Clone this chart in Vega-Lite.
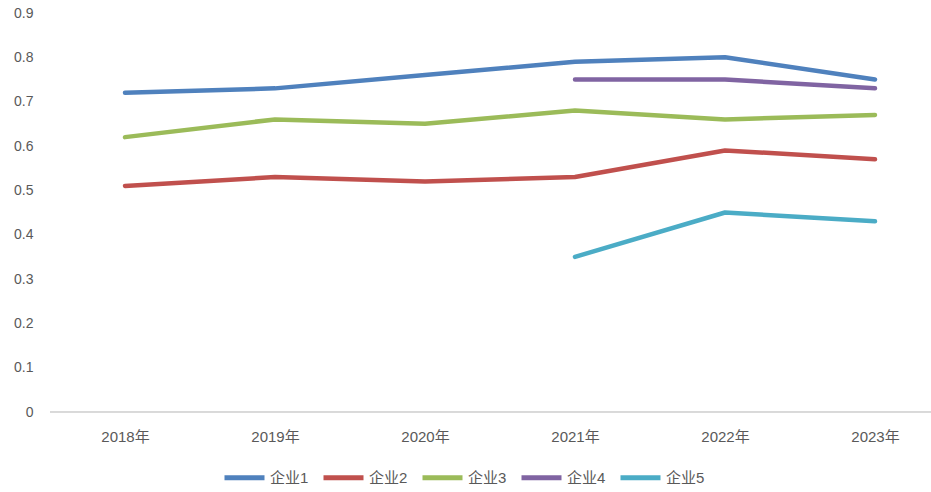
{
  "$schema": "https://vega.github.io/schema/vega-lite/v6.json",
  "width": 881,
  "height": 399,
  "autosize": "none",
  "padding": {"left": 50, "top": 13, "right": 0, "bottom": 80},
  "background": "#ffffff",
  "config": {
    "view": {"stroke": null},
    "font": "Liberation Sans, Noto Sans CJK SC",
    "axis": {"labelFont": "Liberation Sans, Noto Sans CJK SC", "labelColor": "#595959", "labelFontSize": 14},
    "legend": {"labelFont": "Liberation Sans, Noto Sans CJK SC", "labelColor": "#595959", "labelFontSize": 15}
  },
  "data": {
    "values": [
      {"year": "2018年", "series": "企业1", "value": 0.72},
      {"year": "2019年", "series": "企业1", "value": 0.73},
      {"year": "2020年", "series": "企业1", "value": 0.76},
      {"year": "2021年", "series": "企业1", "value": 0.79},
      {"year": "2022年", "series": "企业1", "value": 0.80},
      {"year": "2023年", "series": "企业1", "value": 0.75},
      {"year": "2018年", "series": "企业2", "value": 0.51},
      {"year": "2019年", "series": "企业2", "value": 0.53},
      {"year": "2020年", "series": "企业2", "value": 0.52},
      {"year": "2021年", "series": "企业2", "value": 0.53},
      {"year": "2022年", "series": "企业2", "value": 0.59},
      {"year": "2023年", "series": "企业2", "value": 0.57},
      {"year": "2018年", "series": "企业3", "value": 0.62},
      {"year": "2019年", "series": "企业3", "value": 0.66},
      {"year": "2020年", "series": "企业3", "value": 0.65},
      {"year": "2021年", "series": "企业3", "value": 0.68},
      {"year": "2022年", "series": "企业3", "value": 0.66},
      {"year": "2023年", "series": "企业3", "value": 0.67},
      {"year": "2021年", "series": "企业4", "value": 0.75},
      {"year": "2022年", "series": "企业4", "value": 0.75},
      {"year": "2023年", "series": "企业4", "value": 0.73},
      {"year": "2021年", "series": "企业5", "value": 0.35},
      {"year": "2022年", "series": "企业5", "value": 0.45},
      {"year": "2023年", "series": "企业5", "value": 0.43}
    ]
  },
  "layer": [
    {
      "mark": {"type": "rule", "color": "#d9d9d9", "strokeWidth": 1},
      "encoding": {"y": {"datum": 0, "type": "quantitative", "scale": {"domain": [0, 0.9]}}}
    },
    {
      "mark": {"type": "line", "strokeWidth": 4.5, "strokeCap": "round", "strokeJoin": "round"},
      "encoding": {
        "x": {
          "field": "year", "type": "ordinal",
          "sort": ["2018年", "2019年", "2020年", "2021年", "2022年", "2023年"],
          "scale": {"type": "point", "range": [75, 825], "padding": 0},
          "axis": {"title": null, "domain": false, "ticks": false, "labelPadding": 17, "labelAngle": 0, "labelFontSize": 15}
        },
        "y": {
          "field": "value", "type": "quantitative",
          "scale": {"domain": [0, 0.9], "nice": false},
          "axis": {"title": null, "domain": false, "ticks": false, "grid": false, "values": [0, 0.1, 0.2, 0.3, 0.4, 0.5, 0.6, 0.7, 0.8, 0.9], "format": "~g", "labelPadding": 17}
        },
        "color": {
          "field": "series", "type": "nominal",
          "scale": {"domain": ["企业1", "企业2", "企业3", "企业4", "企业5"], "range": ["#4F81BD", "#C0504D", "#9BBB59", "#8064A2", "#4BACC6"]},
          "legend": {
            "title": null, "orient": "none", "direction": "horizontal",
            "legendX": 172, "legendY": 442,
            "symbolType": "stroke", "symbolSize": 1600, "symbolStrokeWidth": 5,
            "labelOffset": 3, "columnPadding": 4
          }
        }
      }
    }
  ]
}
